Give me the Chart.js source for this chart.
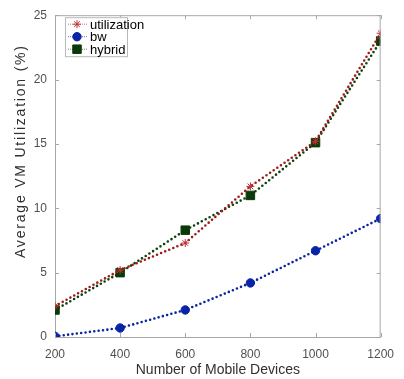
<!DOCTYPE html>
<html>
<head>
<meta charset="utf-8">
<script src="https://cdn.jsdelivr.net/npm/chart.js@4"></script>
<style>
  html, body { margin: 0; padding: 0; background: #fff; }
  canvas { display: block; }
</style>
</head>
<body>
<canvas id="grafico" width="404" height="379"></canvas>
<script>
// dados
var devices = [200, 400, 600, 800, 1000, 1200];
var utilization = [2.4, 5.2, 7.3, 11.7, 15.2, 23.6];
var bw = [0.05, 0.7, 2.1, 4.2, 6.7, 9.2];
var hybrid = [2.1, 5.0, 8.3, 11.0, 15.1, 23.0];
var yTicks = [0, 5, 10, 15, 20, 25];

var axisColor = '#a8a8a8';
var fonte = '"Liberation Sans", Arial, sans-serif';

function pts(vals) {
    return devices.map(function(d, i) { return { x: d, y: vals[i] }; });
}

// moldura (box on), marcas para dentro e título do eixo y
var boxPlugin = {
    id: 'box',
    afterDraw: function(chart) {
        var ctx = chart.ctx, a = chart.chartArea;
        var xs = chart.scales.x, ys = chart.scales.y;
        ctx.save();
        ctx.strokeStyle = axisColor;
        ctx.lineWidth = 1;
        ctx.beginPath();
        ctx.moveTo(a.left, a.top + 0.5); ctx.lineTo(a.right, a.top + 0.5);
        ctx.moveTo(a.right - 0.5, a.top); ctx.lineTo(a.right - 0.5, a.bottom);
        devices.forEach(function(d) {
            var px = Math.round(xs.getPixelForValue(d)) + 0.5;
            ctx.moveTo(px, a.bottom); ctx.lineTo(px, a.bottom - 4);
            ctx.moveTo(px, a.top); ctx.lineTo(px, a.top + 4);
        });
        yTicks.forEach(function(v) {
            var py = Math.round(ys.getPixelForValue(v)) + 0.5;
            ctx.moveTo(a.left, py); ctx.lineTo(a.left + 4, py);
            ctx.moveTo(a.right, py); ctx.lineTo(a.right - 4, py);
        });
        ctx.stroke();

        // titulo do eixo y com espaçamento entre letras
        ctx.translate(21, (a.top + a.bottom) / 2 - 25);
        ctx.rotate(-Math.PI / 2);
        ctx.font = '14px ' + fonte;
        ctx.letterSpacing = '1.8px';
        ctx.fillStyle = '#303030';
        ctx.textAlign = 'center';
        ctx.textBaseline = 'middle';
        ctx.fillText('Average VM Utilization (%)', 0, 0);
        ctx.restore();
    }
};

// legenda dentro da área do gráfico
var legendPlugin = {
    id: 'legendaInterna',
    afterDraw: function(chart) {
        var ctx = chart.ctx, a = chart.chartArea;
        var x0 = a.left + 10, y0 = a.top + 2, w = 62, h = 39;
        ctx.save();
        ctx.fillStyle = '#fff';
        ctx.fillRect(x0, y0, w, h);
        ctx.strokeStyle = '#b8b8b8';
        ctx.lineWidth = 1;
        ctx.strokeRect(x0 + 0.5, y0 + 0.5, w, h);
        ctx.font = '13px ' + fonte;
        ctx.textBaseline = 'middle';
        chart.data.datasets.forEach(function(ds, i) {
            var cy = y0 + 7 + i * 12.5;
            ctx.strokeStyle = ds.borderColor;
            ctx.globalAlpha = 0.6;
            ctx.lineWidth = 1;
            ctx.setLineDash([1, 1]);
            ctx.beginPath();
            ctx.moveTo(x0 + 3, cy); ctx.lineTo(x0 + 22, cy);
            ctx.stroke();
            ctx.globalAlpha = 1;
            ctx.setLineDash([]);
            ctx.fillStyle = ds.pointBackgroundColor;
            ctx.strokeStyle = ds.pointBorderColor;
            Chart.helpers.drawPoint(ctx, {
                pointStyle: ds.pointStyle,
                radius: ds.pointRadius,
                borderWidth: ds.pointBorderWidth || 1
            }, x0 + 12, cy);
            ctx.fillStyle = '#000';
            ctx.fillText(ds.label, x0 + 25, cy + 1);
        });
        ctx.restore();
    }
};

function serie(label, vals, cor, corPonto, estilo, raio) {
    return {
        label: label,
        data: pts(vals),
        borderColor: cor,
        backgroundColor: cor,
        borderWidth: 2.6,
        borderDash: [0, 4.4],
        borderCapStyle: 'round',
        pointStyle: estilo,
        pointRadius: raio,
        pointBorderColor: corPonto,
        pointBackgroundColor: corPonto,
        pointBorderWidth: 1,
        tension: 0
    };
}

var ctx = document.getElementById('grafico').getContext('2d');
var chart = new Chart(ctx, {
    type: 'line',
    data: {
        datasets: [
            serie('utilization', utilization, '#9e1a1a', '#c03030', 'star', 4),
            serie('bw', bw, '#0a24a0', '#0a24a8', 'circle', 4.2),
            serie('hybrid', hybrid, '#0b420b', '#0a3a0a', 'rect', 6)
        ]
    },
    options: {
        responsive: false,
        animation: false,
        layout: { padding: { top: 11, right: 11, left: 0, bottom: 0 } },
        plugins: { legend: { display: false }, tooltip: { enabled: false } },
        scales: {
            x: {
                type: 'linear',
                min: 200, max: 1200,
                afterFit: function(s) { s.height = 42; },
                afterBuildTicks: function(s) { s.ticks = devices.map(function(v) { return { value: v }; }); },
                grid: { display: false, drawTicks: false },
                border: { display: true, color: axisColor },
                ticks: {
                    padding: 10, color: '#505050', maxRotation: 0,
                    font: { family: fonte, size: 12 },
                    callback: function(v) { return String(v); }
                },
                title: { display: true, text: 'Number of Mobile Devices', color: '#303030', padding: { top: 0, bottom: 0 }, font: { family: fonte, size: 14 } }
            },
            y: {
                min: 0, max: 25,
                afterFit: function(s) { s.width = 55; },
                afterBuildTicks: function(s) { s.ticks = yTicks.map(function(v) { return { value: v }; }); },
                grid: { display: false, drawTicks: false },
                border: { display: true, color: axisColor },
                ticks: { padding: 8, color: '#505050', font: { family: fonte, size: 12 } },
                title: { display: false }
            }
        }
    },
    plugins: [boxPlugin, legendPlugin]
});
</script>
</body>
</html>
